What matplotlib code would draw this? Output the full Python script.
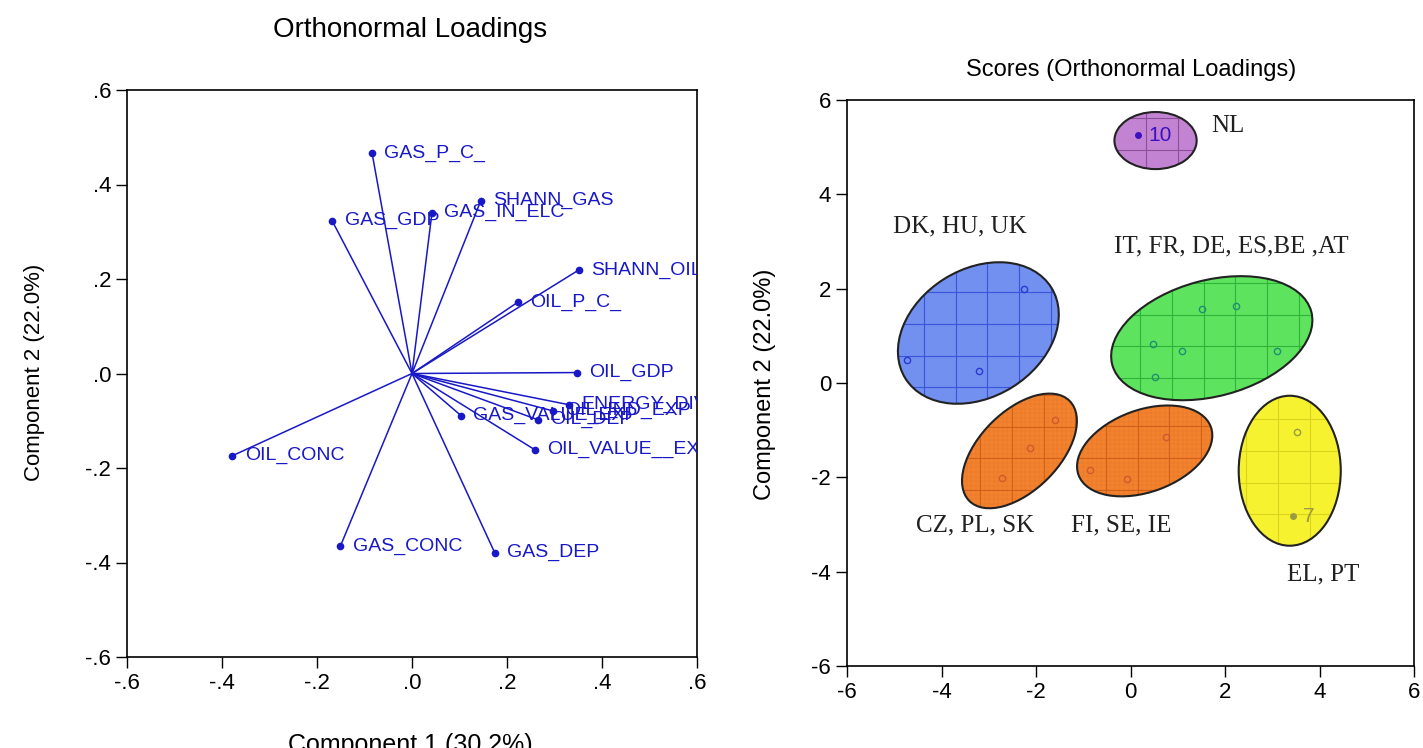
import numpy as np
import matplotlib
matplotlib.use("Agg")
import matplotlib.pyplot as plt
from matplotlib.patches import Ellipse

plt.rcParams['font.family'] = ['Liberation Sans', 'DejaVu Sans']
plt.rcParams['axes.unicode_minus'] = False

# loadings (component 1, component 2)
var_names = ["GAS_P_C_", "GAS_GDP", "GAS_IN_ELC", "SHANN_GAS", "SHANN_OIL",
             "OIL_P_C_", "OIL_GDP", "ENERGY_DIV", "OIL_IND_EXP", "OIL_DEP",
             "GAS_VALUE_EXP", "OIL_VALUE__EXP", "OIL_CONC", "GAS_CONC", "GAS_DEP"]
load_c1 = [-0.084, -0.168, 0.042, 0.145, 0.351,
           0.223, 0.347, 0.330, 0.296, 0.265,
           0.103, 0.258, -0.378, -0.151, 0.174]
load_c2 = [0.466, 0.323, 0.340, 0.366, 0.219,
           0.151, 0.002, -0.066, -0.079, -0.098,
           -0.089, -0.161, -0.174, -0.366, -0.379]

# scores, grouped into clusters
groups = ["NL", "DK, HU, UK", "IT, FR, DE, ES,BE ,AT", "CZ, PL, SK", "FI, SE, IE", "EL, PT"]
score_c1 = [[0.15],
            [-2.25, -4.72, -3.20],
            [1.52, 2.24, 0.47, 1.08, 3.09, 0.51],
            [-1.59, -2.12, -2.71],
            [0.76, -0.85, -0.08],
            [3.52, 3.43]]
score_c2 = [[5.25],
            [1.99, 0.49, 0.25],
            [1.57, 1.63, 0.83, 0.68, 0.68, 0.13],
            [-0.78, -1.38, -2.01],
            [-1.14, -1.84, -2.03],
            [-1.04, -2.82]]
# numbered observations (group index, point index, label)
numbered = [(0, 0, "10"), (5, 1, "7")]

# cluster ellipse look: centre, width, height, angle, fill, grid colour, point colour
shapes = [
    ((0.53, 5.14), 1.74, 1.21, 0, '#c383d3', '#8a4f96', '#3a10c0'),
    ((-3.22, 1.06), 3.64, 2.71, 32, '#7190f0', '#3a55d8', '#2a3ad0'),
    ((1.72, 0.95), 4.36, 2.46, 15, '#5ee35e', '#2fb43a', '#1f9070'),
    ((-2.35, -1.44), 3.00, 1.68, 45, '#f2822e', '#d0601a', '#d05a30'),
    ((0.30, -1.44), 2.98, 1.74, 20, '#f2822e', '#d0601a', '#d05a30'),
    ((3.37, -1.86), 2.16, 3.18, 0, '#f7f230', '#ddd31c', '#9a9a40'),
]
group_label_xy = [(2.05, 5.44), (-3.62, 3.31), (2.14, 2.90),
                  (-3.28, -3.01), (-0.19, -3.01), (4.07, -4.05)]
filled_points = [(0, 0), (5, 1)]

W, H = 1423, 748
fig = plt.figure(figsize=(W / 100, H / 100), dpi=100)

# ---- left: loadings ----
ax1 = fig.add_axes([127 / W, 1 - 657 / H, 570 / W, 567 / H])
blue = '#1818c8'
for x, y, name in zip(load_c1, load_c2, var_names):
    ax1.plot([0, x], [0, y], color=blue, lw=1.1)
    ax1.plot(x, y, 'o', color=blue, ms=4.5)
    ax1.text(x + 0.026, y, name, color=blue, fontsize=14, va='center', ha='left', clip_on=True)
ax1.set_xlim(-0.6, 0.6)
ax1.set_ylim(-0.6, 0.6)
ticks = [-0.6, -0.4, -0.2, 0.0, 0.2, 0.4, 0.6]
tick_txt = ["-.6", "-.4", "-.2", ".0", ".2", ".4", ".6"]
ax1.set_xticks(ticks, tick_txt)
ax1.set_yticks(ticks, tick_txt)
fig.text(410 / W, 1 - 30 / H, "Orthonormal Loadings", fontsize=20, ha='center', va='center')
fig.text(35 / W, 1 - 372 / H, "Component 2 (22.0%)", fontsize=16, rotation=90,
         ha='center', va='center')
fig.text(410 / W, 1 - 733 / H, "Component 1 (30.2%)", fontsize=18, ha='center', va='top')

# ---- right: scores ----
ax2 = fig.add_axes([847 / W, 1 - 666 / H, 567 / W, 566 / H])
for g, (c, w, h, ang, fc, gc, pc) in enumerate(shapes):
    ell = Ellipse(c, w, h, angle=ang, facecolor=fc, edgecolor='none', zorder=1)
    ax2.add_patch(ell)
    # grid pattern inside the ellipse
    step = 0.67
    span = max(w, h) / 2 + step
    for k in np.arange(-span, span + 0.01, step):
        for ln in (ax2.axvline(c[0] + k, color=gc, lw=0.8, zorder=2),
                   ax2.axhline(c[1] + k, color=gc, lw=0.8, zorder=2)):
            ln.set_clip_path(ell)
    if g in (3, 4):
        for k in np.arange(-span, span + 0.01, step / 7):
            for ln in (ax2.axvline(c[0] + k, color=gc, lw=0.3, alpha=0.4, zorder=2),
                       ax2.axhline(c[1] + k, color=gc, lw=0.3, alpha=0.4, zorder=2)):
                ln.set_clip_path(ell)
    ax2.add_patch(Ellipse(c, w, h, angle=ang, facecolor='none', edgecolor='#222222', lw=1.5, zorder=3))
    for i, (x, y) in enumerate(zip(score_c1[g], score_c2[g])):
        if (g, i) in filled_points:
            ax2.plot(x, y, 'o', color=pc, ms=4, zorder=4)
        else:
            ax2.plot(x, y, 'o', mfc='none', mec=pc, ms=4.5, mew=1.0, zorder=4)
    gx, gy = group_label_xy[g]
    ax2.text(gx, gy, groups[g], fontsize=18, family=['Liberation Serif'], ha='center', va='center',
             color='#202020')

for g, i, lab in numbered:
    ax2.text(score_c1[g][i] + 0.22, score_c2[g][i], lab, fontsize=15, va='center', ha='left',
             color=shapes[g][6])

ax2.set_xlim(-6, 6)
ax2.set_ylim(-6, 6)
ax2.set_xticks([-6, -4, -2, 0, 2, 4, 6])
ax2.set_yticks([-6, -4, -2, 0, 2, 4, 6])
fig.text(1131 / W, 1 - 70 / H, "Scores (Orthonormal Loadings)", fontsize=17, ha='center', va='center')
fig.text(765 / W, 1 - 384 / H, "Component 2 (22.0%)", fontsize=17, rotation=90,
         ha='center', va='center')

for ax in (ax1, ax2):
    ax.tick_params(direction='out', length=8, width=1, labelsize=16, top=False, right=False)
    for s in ax.spines.values():
        s.set_linewidth(1.2)

fig.savefig("out.png", dpi=100)
